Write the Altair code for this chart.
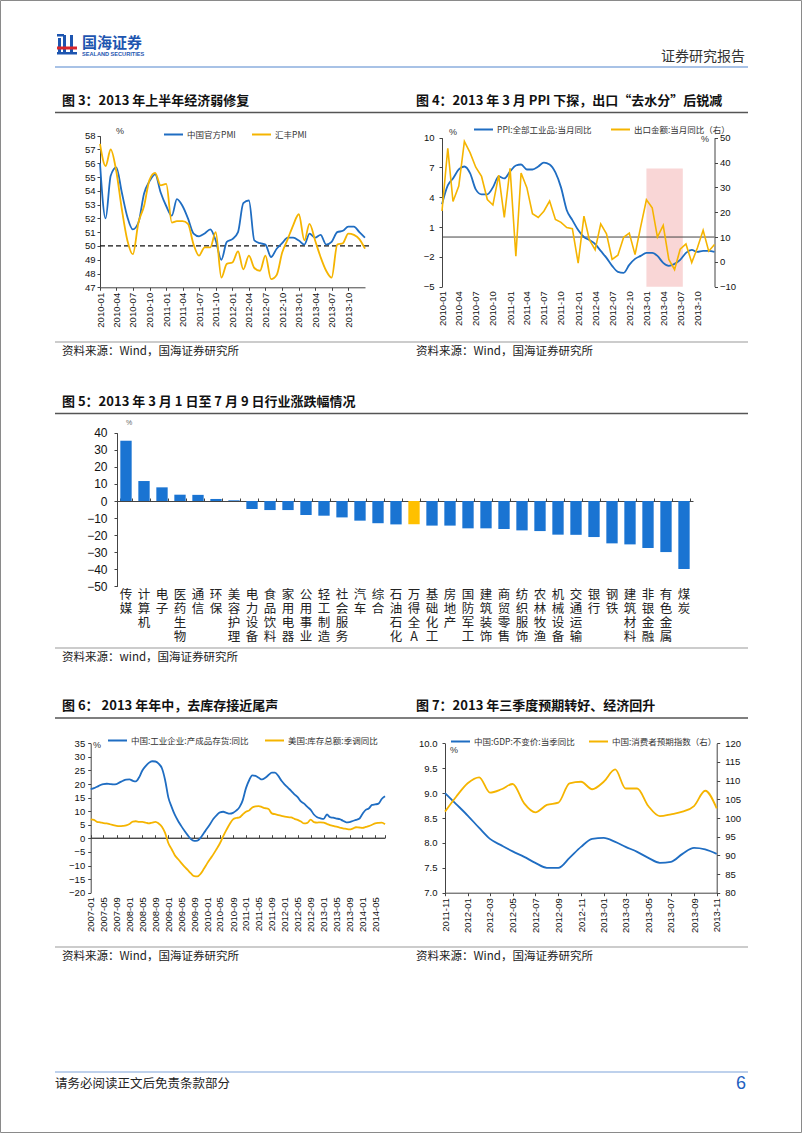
import altair as alt
import pandas as pd

W, H = 802, 1133
BLUE = "#1F6DC2"
GOLD = "#F5B400"
BAR = "#1A74D2"
HILITE = "#FFC000"
CJK = "Noto Sans CJK SC"
NUM = "Liberation Sans"

# ---------------- data ----------------
pmi_months = pd.date_range("2010-01-01", periods=49, freq="MS").strftime("%Y-%m-%d").tolist()
pmi_official = [56.0, 52.0, 55.1, 55.7, 53.9, 52.1, 51.2, 51.7, 53.8, 54.7, 55.2, 53.9,
                52.9, 52.2, 53.4, 52.9, 52.0, 50.9, 50.7, 50.9, 51.2, 50.4, 49.0, 50.3,
                50.5, 51.0, 53.1, 53.3, 50.4, 50.2, 50.1, 49.2, 49.8, 50.2, 50.6, 50.6,
                50.4, 50.1, 50.9, 50.6, 50.8, 50.1, 50.3, 51.0, 51.1, 51.4, 51.4, 51.0, 50.6]
pmi_hsbc = [57.4, 55.8, 57.0, 55.4, 52.7, 50.4, 49.4, 51.7, 52.9, 54.8, 55.3, 54.4,
            54.5, 51.7, 51.8, 51.8, 51.6, 50.1, 49.3, 49.9, 49.9, 51.0, 47.7, 48.7,
            48.8, 49.6, 48.3, 49.3, 48.4, 48.2, 49.3, 47.6, 47.9, 49.5, 50.5, 51.5,
            52.3, 50.4, 51.6, 50.4, 49.2, 48.2, 47.7, 50.1, 50.2, 50.9, 50.8, 50.5, 49.8]
pmi_series = ["中国官方PMI", "汇丰PMI"]
pmi_threshold = [50]
pmi_ticks = pmi_months[:48:3]

ppi_months = pd.date_range("2010-01-01", periods=49, freq="MS").strftime("%Y-%m-%d").tolist()
ppi = [3.3, 5.2, 5.9, 6.8, 7.1, 6.4, 4.8, 4.3, 4.3, 5.0, 6.1, 5.9,
       6.6, 7.2, 7.3, 6.8, 6.8, 7.1, 7.5, 7.3, 6.5, 5.0, 2.7, 1.7,
       0.7, 0.0, -0.3, -0.7, -1.4, -2.1, -2.9, -3.5, -3.6, -2.8, -2.2, -1.9,
       -1.6, -1.6, -1.9, -2.6, -2.9, -2.7, -2.3, -1.6, -1.3, -1.5, -1.4, -1.4, -1.5]
export = [20.5, 45.7, 24.3, 30.5, 48.5, 43.9, 38.1, 34.4, 25.1, 22.9, 34.9, 17.9,
          37.7, 2.3, 35.8, 29.9, 19.4, 17.9, 20.4, 24.5, 17.1, 15.9, 13.8, 13.4,
          -0.5, 18.4, 8.9, 4.9, 15.3, 11.3, 1.0, 2.7, 9.9, 11.6, 2.9, 14.1,
          25.0, 21.8, 10.0, 14.7, 1.0, -3.1, 5.1, 7.2, -0.3, 5.6, 12.7, 4.3, 7.0]
ppi_name = "PPI:全部工业品:当月同比"
export_name = "出口金额:当月同比（右）"
ppi_ticks = ppi_months[:48:3]
shade_range = ["2013-01-01", "2013-07-15"]
shade_top = 6.9

industries = ["传媒", "计算机", "电子", "医药生物", "通信", "环保", "美容护理", "电力设备",
              "食品饮料", "家用电器", "公用事业", "轻工制造", "社会服务", "汽车", "综合", "石油石化",
              "万得全A", "基础化工", "房地产", "国防军工", "建筑装饰", "商贸零售", "纺织服饰", "农林牧渔",
              "机械设备", "交通运输", "银行", "钢铁", "建筑材料", "非银金融", "有色金属", "煤炭"]
industry_chg = [35.3, 11.7, 8.0, 3.7, 3.6, 1.2, 0.4, -4.7,
                -5.3, -5.3, -8.2, -8.6, -9.6, -11.5, -13.0, -13.7,
                -13.6, -14.4, -14.4, -16.0, -16.0, -16.4, -17.2, -17.6,
                -19.7, -19.8, -21.1, -24.8, -25.4, -27.5, -29.9, -39.8]
benchmark = "万得全A"

inv_months = pd.date_range("2007-01-01", periods=92, freq="MS").strftime("%Y-%m-%d").tolist()
inv_china = [18.1, 18.5, 19.0, 19.6, 20.0, 20.1, 20.0, 19.9, 20.0, 20.6, 21.2, 21.6,
             21.7, 21.2, 21.0, 22.5, 25.0, 26.6, 27.8, 28.4, 28.3, 27.5, 25.8, 21.5,
             15.0, 11.5, 8.8, 6.5, 4.6, 2.8, 1.2, -0.3, -0.9, -0.8, 0.3, 2.0,
             3.7, 5.5, 7.2, 8.6, 9.6, 9.8, 9.4, 9.1, 9.4, 10.2, 11.5, 14.0,
             18.5, 21.5, 23.2, 23.0, 22.3, 21.7, 22.3, 23.3, 24.2, 24.2, 23.0, 21.2,
             19.8, 18.6, 17.5, 16.2, 15.2, 13.6, 12.8, 11.6, 10.5, 8.8, 7.8, 7.4,
             7.2, 8.8, 7.8, 7.6, 7.3, 7.1, 6.5, 5.9, 6.0, 6.4, 6.8, 7.2,
             9.0, 10.5, 11.0, 12.3, 12.5, 12.8, 14.5, 15.5]
inv_us = [7.0, 6.8, 6.1, 5.9, 5.6, 5.5, 5.2, 4.9, 4.6, 4.5, 4.6, 4.8,
          5.3, 6.2, 6.3, 6.1, 6.1, 5.8, 5.5, 5.8, 6.1, 5.5, 4.3, 2.0,
          -1.8, -4.0, -6.1, -7.6, -9.0, -10.4, -11.6, -12.9, -13.9, -14.0, -13.0, -11.2,
          -9.2, -7.4, -5.8, -3.8, -1.8, 0.8, 3.1, 5.3, 7.0, 7.5, 7.7, 8.8,
          9.8, 10.3, 11.4, 11.8, 11.9, 11.5, 11.1, 10.8, 9.2, 8.9, 8.6, 8.3,
          8.0, 7.8, 7.7, 7.2, 6.8, 6.2, 5.5, 5.7, 6.9, 6.0, 5.8, 5.9,
          5.8, 5.3, 4.9, 4.6, 4.3, 4.0, 3.7, 3.5, 3.3, 3.6, 4.1, 4.0,
          3.9, 4.2, 4.5, 5.0, 5.5, 5.7, 5.8, 5.2]
inv_series = ["中国:工业企业:产成品存货:同比", "美国:库存总额:季调同比"]
inv_ticks = inv_months[::4]

gdp_months = pd.date_range("2011-11-01", periods=25, freq="MS").strftime("%Y-%m-%d").tolist()
gdp = [9.0, 8.78, 8.55, 8.3, 8.08, 7.95, 7.83, 7.72, 7.6, 7.5, 7.5, 7.7, 7.92,
       8.08, 8.1, 8.02, 7.92, 7.82, 7.7, 7.6, 7.62, 7.78, 7.9, 7.87, 7.78]
consumer = [101.7, 105.7, 109.3, 110.9, 106.8, 107.7, 109.1, 103.9, 101.5, 103.5, 104.1, 109.3, 109.7,
            107.7, 109.7, 113.0, 107.9, 107.9, 103.2, 100.5, 101.0, 101.7, 103.2, 107.3, 102.6]
gdp_name = "中国:GDP:不变价:当季同比"
consumer_name = "中国:消费者预期指数（右）"
gdp_ticks = gdp_months[::2]


# ---------------- helpers ----------------
def dt(s):
    y, m, d = map(int, s.split("-"))
    return alt.DateTime(year=y, month=m, date=d, utc=True)


def tscale(months, rng):
    return alt.Scale(type="utc", domain=[dt(months[0]), dt(months[-1])], range=rng)


def qscale(dom, rng):
    return alt.Scale(domain=dom, range=rng, nice=False, zero=False)


def legend(x, y):
    return alt.Legend(orient="none", legendX=x, legendY=y, direction="horizontal", title=None,
                      symbolType="stroke", symbolStrokeWidth=2, symbolSize=361,
                      labelFont=CJK, labelFontSize=8.5, labelColor="#333", labelOffset=3,
                      columnPadding=12, padding=0)


ONE = pd.DataFrame({"k": [0]})


def label(text, x, y, size=12, color="#222", weight="normal", font=CJK, align="left"):
    return alt.Chart(ONE).mark_text(text=text, fontSize=size, color=color, fontWeight=weight,
                                    font=font, align=align, baseline="middle").encode(
        x=alt.value(x), y=alt.value(y))


def hline(x1, x2, y, color, width=1.0):
    return alt.Chart(ONE).mark_rule(color=color, strokeWidth=width).encode(
        x=alt.value(x1), x2=alt.value(x2), y=alt.value(y))


def box(x1, x2, y1, y2, color):
    return alt.Chart(ONE).mark_rect(color=color).encode(
        x=alt.value(x1), x2=alt.value(x2), y=alt.value(y1), y2=alt.value(y2))


layers = []

# ---------------- page decoration ----------------
layers += [
    alt.Chart(ONE).mark_rect(fillOpacity=0, stroke="#8a8a8a", strokeWidth=1).encode(
        x=alt.value(0.5), x2=alt.value(801.5), y=alt.value(0.5), y2=alt.value(1132.5)),
    box(58, 61, 38, 54, "#1D55B0"), box(63, 66, 35, 54, "#1D55B0"), box(70, 73, 35, 54, "#1D55B0"),
    box(57, 64, 34, 36.5, "#1D55B0"), box(57, 77, 46.5, 49.5, "#D8262C"), box(57, 77, 52, 54.5, "#1D55B0"),
    label("国海证券", 82, 42.5, size=15, color="#1D55B0", weight="bold"),
    label("SEALAND SECURITIES", 82, 53.5, size=5.6, color="#1D55B0", weight="bold", font=NUM),
    label("证券研究报告", 745, 57, size=14, color="#333", align="right"),
    hline(55, 748, 67, "#A8C2E6", 2),
    # row 1 titles
    label("图 3：2013 年上半年经济弱修复", 62, 101, size=13, color="#111", weight="bold"),
    label("图 4：2013 年 3 月 PPI 下探，出口“去水分”后锐减", 416, 101, size=13, color="#111", weight="bold"),
    hline(55, 748, 112.5, "#555", 1.6),
    hline(55, 748, 342, "#999", 1),
    label("资料来源：Wind，国海证券研究所", 62, 352, size=11.5),
    label("资料来源：Wind，国海证券研究所", 416, 352, size=11.5),
    # row 2
    label("图 5：2013 年 3 月 1 日至 7 月 9 日行业涨跌幅情况", 62, 402, size=13, color="#111", weight="bold"),
    hline(55, 748, 413.5, "#555", 1.6),
    hline(55, 748, 648, "#999", 1),
    label("资料来源：wind，国海证券研究所", 62, 658, size=11.5),
    # row 3
    label("图 6：  2013 年年中，去库存接近尾声", 62, 706, size=13, color="#111", weight="bold"),
    label("图 7：2013 年三季度预期转好、经济回升", 416, 706, size=13, color="#111", weight="bold"),
    hline(55, 748, 718, "#555", 1.6),
    hline(55, 748, 947, "#999", 1),
    label("资料来源：Wind，国海证券研究所", 62, 957, size=11.5),
    label("资料来源：Wind，国海证券研究所", 416, 957, size=11.5),
    # footer
    hline(55, 748, 1072, "#A8C2E6", 1.5),
    label("请务必阅读正文后免责条款部分", 55, 1084, size=12.5),
    label("6", 746, 1084, size=18, color="#1F5FBF", font=NUM, align="right"),
    # unit labels
    label("%", 116, 131, size=9, color="#333", font=NUM),
    label("%", 449, 132, size=9, color="#333", font=NUM),
    label("%", 701, 139, size=9, color="#333", font=NUM),
    label("%", 126, 423, size=7, color="#666", font=NUM),
    label("%", 93, 745, size=9, color="#333", font=NUM),
    label("%", 450, 750, size=9, color="#333", font=NUM),
]

# ---------------- chart 3 ----------------
df3 = pd.concat([
    pd.DataFrame({"month": pmi_months, "series": pmi_series[0], "value": pmi_official}),
    pd.DataFrame({"month": pmi_months, "series": pmi_series[1], "value": pmi_hsbc}),
])
X3 = [100, 365]
Y3 = [287.3, 135.7]
c3_line = alt.Chart(df3).mark_line(interpolate="monotone", strokeWidth=1.8).encode(
    x=alt.X("month:T", scale=tscale(pmi_months, X3),
            axis=alt.Axis(orient="bottom", offset=Y3[0] - H, values=[dt(m) for m in pmi_ticks],
                          format="%Y-%m", labelAngle=270, labelPadding=2, tickSize=3, title=None)),
    y=alt.Y("value:Q", scale=qscale([47, 58], Y3),
            axis=alt.Axis(orient="left", offset=-X3[0], values=list(range(47, 59)), tickSize=3,
                          labelPadding=2, title=None)),
    color=alt.Color("series:N", scale=alt.Scale(domain=pmi_series, range=[BLUE, GOLD]), legend=legend(163, 124)),
)
c3_ref = alt.Chart(pd.DataFrame({"v": pmi_threshold})).mark_rule(strokeDash=[5, 3], color="#111", strokeWidth=1.2).encode(
    x=alt.X(datum=dt(pmi_months[0]), type="temporal", scale=tscale(pmi_months, X3), axis=None),
    x2=alt.X2(datum=dt("2014-02-01")),
    y=alt.Y("v:Q", scale=qscale([47, 58], Y3), axis=None),
)
layers += [c3_ref, c3_line]

# ---------------- chart 4 ----------------
X4 = [442, 714.5]
Y4 = [286.7, 137.7]
df4a = pd.DataFrame({"month": ppi_months, "value": ppi, "series": ppi_name})
df4b = pd.DataFrame({"month": ppi_months, "value": export, "series": export_name})
c4_shade = alt.Chart(ONE).mark_rect(color="#F9D6D6").encode(
    x=alt.X(datum=dt(shade_range[0]), type="temporal", scale=tscale(ppi_months, X4), axis=None),
    x2=alt.X2(datum=dt(shade_range[1])),
    y=alt.Y(datum=-5, type="quantitative", scale=qscale([-5, 10], Y4), axis=None),
    y2=alt.Y2(datum=shade_top),
)
c4_zero = alt.Chart(ONE).mark_rule(color="#444", strokeWidth=1).encode(
    x=alt.X(datum=dt(ppi_months[0]), type="temporal", scale=tscale(ppi_months, X4), axis=None),
    x2=alt.X2(datum=dt(ppi_months[-1])),
    y=alt.Y(datum=0, type="quantitative", scale=qscale([-5, 10], Y4), axis=None),
)
c4_ppi = alt.Chart(df4a).mark_line(interpolate="monotone", strokeWidth=1.8).encode(
    x=alt.X("month:T", scale=tscale(ppi_months, X4),
            axis=alt.Axis(orient="bottom", offset=Y4[0] - H, values=[dt(m) for m in ppi_ticks],
                          format="%Y-%m", labelAngle=270, labelPadding=4, domain=False, ticks=False, title=None)),
    y=alt.Y("value:Q", scale=qscale([-5, 10], Y4),
            axis=alt.Axis(orient="left", offset=-X4[0], values=[-5, -2, 1, 4, 7, 10], tickSize=3,
                          labelPadding=5, title=None)),
    color=alt.Color("series:N", scale=alt.Scale(domain=[ppi_name], range=[BLUE]), legend=legend(473, 119)),
)
c4_exp = alt.Chart(df4b).mark_line(strokeWidth=1.6).encode(
    x=alt.X("month:T", scale=tscale(ppi_months, X4), axis=None),
    y=alt.Y("value:Q", scale=qscale([-10, 50], Y4),
            axis=alt.Axis(orient="right", offset=X4[1] - W, values=list(range(-10, 51, 10)), tickSize=3,
                          labelPadding=2, title=None)),
    color=alt.Color("series:N", scale=alt.Scale(domain=[export_name], range=[GOLD]), legend=legend(610, 119)),
)
layers += [c4_shade, c4_zero, c4_ppi, c4_exp]

# ---------------- chart 5 ----------------
X5 = [117, 693]
Y5 = [586.4, 432.7]
df5 = pd.DataFrame({"industry": industries, "chg": industry_chg})
df5["group"] = ["benchmark" if i == benchmark else "industry" for i in industries]
# one row per character of each category name, for vertical (stacked) labels
df5_chars = pd.DataFrame([{"industry": ind, "pos": i, "ch": ch}
                          for ind in industries for i, ch in enumerate(ind)])


def band5():
    return alt.Scale(domain=industries, range=X5, paddingInner=0.37, paddingOuter=0.185)


c5_bars = alt.Chart(df5).mark_bar().encode(
    x=alt.X("industry:N", sort=None, scale=band5(),
            axis=alt.Axis(orient="top", offset=-501, labels=False, tickBand="extent", tickSize=3,
                          domainColor="#444", title=None)),
    y=alt.Y("chg:Q", scale=qscale([-50, 40], Y5),
            axis=alt.Axis(orient="left", offset=-X5[0], values=list(range(-50, 41, 10)), tickSize=3,
                          labelPadding=7, labelFontSize=12, title=None)),
    color=alt.Color("group:N", scale=alt.Scale(domain=["industry", "benchmark"], range=[BAR, HILITE]), legend=None),
)
c5_labels = alt.Chart(df5_chars).mark_text(font=CJK, fontSize=12.5, color="#222", baseline="middle").encode(
    x=alt.X("industry:N", sort=None, scale=band5(), axis=None),
    y=alt.Y("pos:Q", scale=qscale([0, 3], [595, 637]), axis=None),
    text="ch:N",
)
layers += [c5_bars, c5_labels]

# ---------------- chart 6 ----------------
X6 = [90.7, 385]
Y6 = [892.7, 743.3]
df6 = pd.concat([
    pd.DataFrame({"month": inv_months, "series": inv_series[0], "value": inv_china}),
    pd.DataFrame({"month": inv_months, "series": inv_series[1], "value": inv_us}),
])
Z6 = 837.7
c6_zero = alt.Chart(ONE).mark_rule(color="#444", strokeWidth=1).encode(
    x=alt.X(datum=dt(inv_months[0]), type="temporal", scale=tscale(inv_months, X6),
            axis=alt.Axis(orient="top", offset=-Z6, values=[dt(m) for m in inv_ticks] + [dt(inv_months[-1])],
                          labels=False, tickSize=3, title=None)),
    x2=alt.X2(datum=dt(inv_months[-1])),
    y=alt.Y(datum=0, type="quantitative", scale=qscale([-20, 35], Y6), axis=None),
)
c6_line = alt.Chart(df6).mark_line(interpolate="monotone", strokeWidth=1.8).encode(
    x=alt.X("month:T", scale=tscale(inv_months, X6),
            axis=alt.Axis(orient="bottom", offset=Y6[0] - H, values=[dt(m) for m in inv_ticks],
                          format="%Y-%m", labelAngle=270, labelPadding=4, domain=False, ticks=False, title=None)),
    y=alt.Y("value:Q", scale=qscale([-20, 35], Y6),
            axis=alt.Axis(orient="left", offset=-X6[0], values=list(range(-20, 36, 5)), tickSize=3,
                          labelPadding=3, title=None)),
    color=alt.Color("series:N", scale=alt.Scale(domain=inv_series, range=[BLUE, GOLD]), legend=legend(107, 730)),
)
layers += [c6_zero, c6_line]

# ---------------- chart 7 ----------------
X7 = [445, 716.7]
Y7 = [892.7, 743.3]
df7a = pd.DataFrame({"month": gdp_months, "value": gdp, "series": gdp_name})
df7b = pd.DataFrame({"month": gdp_months, "value": consumer, "series": consumer_name})
c7_gdp = alt.Chart(df7a).mark_line(interpolate="monotone", strokeWidth=1.8).encode(
    x=alt.X("month:T", scale=tscale(gdp_months, X7),
            axis=alt.Axis(orient="bottom", offset=Y7[0] - H, values=[dt(m) for m in gdp_ticks],
                          format="%Y-%m", labelAngle=270, labelPadding=2, tickSize=3, title=None)),
    y=alt.Y("value:Q", scale=qscale([7, 10], Y7),
            axis=alt.Axis(orient="left", offset=-X7[0], values=[7, 7.5, 8, 8.5, 9, 9.5, 10], format=".1f",
                          tickSize=3, labelPadding=5, title=None)),
    color=alt.Color("series:N", scale=alt.Scale(domain=[gdp_name], range=[BLUE]), legend=legend(450, 731)),
)
c7_cons = alt.Chart(df7b).mark_line(interpolate="monotone", strokeWidth=1.8).encode(
    x=alt.X("month:T", scale=tscale(gdp_months, X7), axis=None),
    y=alt.Y("value:Q", scale=qscale([80, 120], Y7),
            axis=alt.Axis(orient="right", offset=X7[1] - W, values=list(range(80, 121, 5)), tickSize=3,
                          labelPadding=5, title=None)),
    color=alt.Color("series:N", scale=alt.Scale(domain=[consumer_name], range=[GOLD]), legend=legend(588, 731)),
)
layers += [c7_gdp, c7_cons]

chart = alt.layer(*layers).properties(
    width=W, height=H, padding=0, autosize=alt.AutoSizeParams(type="none"),
).resolve_scale(
    x="independent", y="independent", color="independent"
).resolve_axis(
    x="independent", y="independent"
).resolve_legend(
    color="independent"
).configure_view(
    stroke="transparent"
).configure_axis(
    grid=False, labelFont=NUM, labelFontSize=9.5, labelColor="#111",
    domainColor="#444", tickColor="#444", domainWidth=1,
)

chart.save("out.html", embed_options={"renderer": "svg", "actions": False})
